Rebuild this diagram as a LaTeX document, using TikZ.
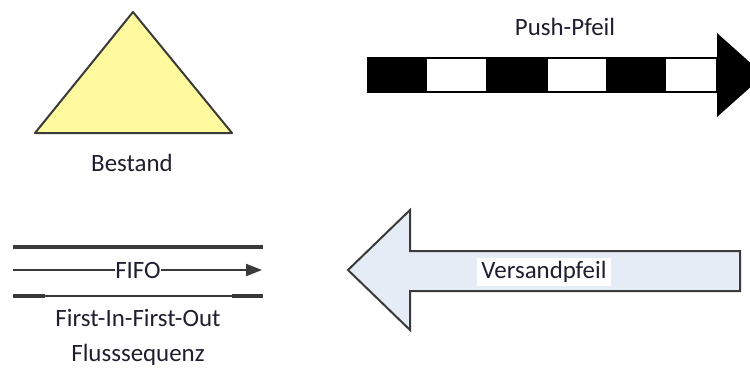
\documentclass[tikz,border=0pt]{standalone}
\usepackage{fontspec}
\setmainfont{Carlito}
\usetikzlibrary{arrows.meta}
\definecolor{stockfill}{HTML}{FFFA9E}
\definecolor{shipfill}{HTML}{E6ECF6}
\definecolor{edgegrey}{HTML}{3A3A3A}
\definecolor{labelink}{HTML}{1E1E2E}
\tikzset{
  x=1bp, y=-1bp,
  lbl/.style={font=\fontsize{25}{28}\selectfont, text=labelink, inner sep=1bp},
  stock/.style={draw=edgegrey, line width=2bp, fill=stockfill, line join=round},
  pushblk/.style={fill=black, draw=black, line width=1.5bp},
  pushwht/.style={fill=white, draw=black, line width=1.5bp},
  ship/.style={draw=edgegrey, line width=2bp, fill=shipfill, line join=miter},
  fifothick/.style={draw=edgegrey, line width=4bp},
  fifothin/.style={draw=edgegrey, line width=2bp},
}
\begin{document}
\begin{tikzpicture}
\useasboundingbox (0,0) rectangle (750,371);

% inventory triangle
\draw[stock] (133,12) -- (232,133) -- (35,133) -- cycle;
\node[lbl] (bestand) at (132,163) {Bestand};

% push arrow: striped shaft and solid head
\coordinate (ps) at (368,58);
\fill[pushblk] (368,58) rectangle (426,92);
\draw[pushwht] (426,58) rectangle (487,92);
\fill[pushblk] (487,58) rectangle (547,92);
\draw[pushwht] (547,58) rectangle (607,92);
\fill[pushblk] (607,58) rectangle (665,92);
\draw[pushwht] (665,58) rectangle (717,92);
\fill[black] (717,33) -- (764,75) -- (717,117) -- cycle;
\node[lbl] (push) at (565,27) {Push-Pfeil};

% FIFO lane
\coordinate (ftl) at (13,247);
\coordinate (ftr) at (263,247);
\draw[fifothick] (ftl) -- (ftr);
\coordinate (fml) at (13,270);
\coordinate (fmr) at (262,270);
\draw[edgegrey, line width=2bp, -{Triangle[length=16bp,width=12bp]}] (fml) -- (fmr);
\node[lbl, fill=white, inner xsep=0bp, inner ysep=0bp] (fifo) at (138,270) {FIFO};
\coordinate (fbl) at (13,296);
\coordinate (fbr) at (263,296);
\draw[fifothin] (fbl) -- (fbr);
\draw[fifothick] (fbl) -- (45,296);
\draw[fifothick] (232,296) -- (fbr);
\node[lbl] (fifo1) at (138,318) {First-In-First-Out};
\node[lbl] (fifo2) at (138,355) {Flusssequenz};

% shipment arrow
\draw[ship] (348,270) -- (410,210) -- (410,251) -- (740,251) -- (740,291)
  -- (410,291) -- (410,330) -- cycle;
\node[lbl, fill=white, inner xsep=4bp, inner ysep=3bp] (versand) at (544,272) {Versandpfeil};
\end{tikzpicture}
\end{document}
